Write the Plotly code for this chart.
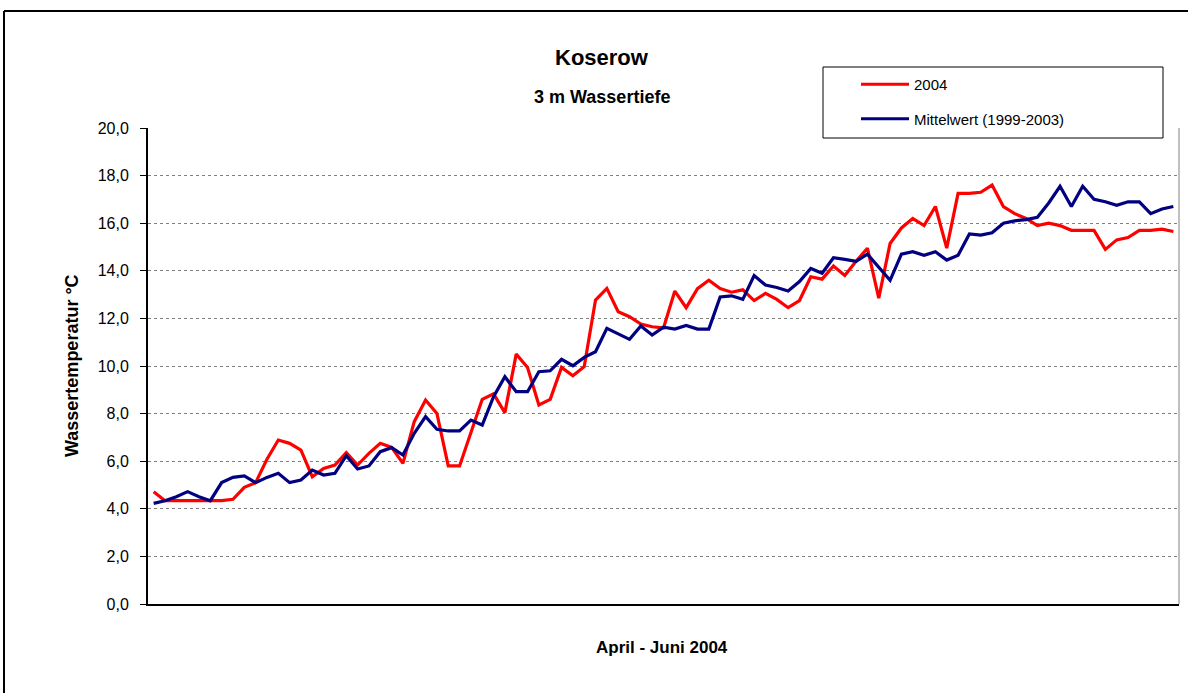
import pandas as pd
import plotly.graph_objects as go

# Days April - June 2004
days = pd.date_range("2004-04-01", "2004-06-30", freq="D")

temp_2004 = [
    4.72, 4.34, 4.34, 4.34, 4.34, 4.34, 4.34, 4.40, 4.90, 5.10,
    6.08, 6.89, 6.75, 6.47, 5.35, 5.70, 5.84, 6.36, 5.84, 6.33,
    6.75, 6.58, 5.91, 7.66, 8.57, 8.01, 5.80, 5.80, 7.24, 8.60,
    8.83, 8.04, 10.50, 9.94, 8.36, 8.60, 9.94, 9.59, 9.97, 12.77,
    13.26, 12.28, 12.07, 11.76, 11.65, 11.60, 13.15, 12.45, 13.25, 13.60,
    13.25, 13.10, 13.20, 12.75, 13.05, 12.80, 12.45, 12.75, 13.75, 13.65,
    14.20, 13.80, 14.40, 14.95, 12.85, 15.15, 15.80, 16.20, 15.90, 16.70,
    14.95, 17.25, 17.25, 17.30, 17.60, 16.70, 16.40, 16.20, 15.90, 16.00,
    15.90, 15.70, 15.70, 15.70, 14.90, 15.30, 15.40, 15.70, 15.70, 15.75,
    15.65,
]

temp_mean = [
    4.23, 4.34, 4.51, 4.72, 4.51, 4.34, 5.10, 5.32, 5.38, 5.10,
    5.32, 5.49, 5.10, 5.21, 5.63, 5.42, 5.49, 6.23, 5.67, 5.80,
    6.40, 6.57, 6.26, 7.17, 7.87, 7.34, 7.27, 7.27, 7.73, 7.52,
    8.71, 9.55, 8.92, 8.92, 9.76, 9.80, 10.28, 10.01, 10.36, 10.60,
    11.58, 11.34, 11.12, 11.68, 11.30, 11.63, 11.55, 11.70, 11.55, 11.55,
    12.90, 12.95, 12.80, 13.80, 13.40, 13.30, 13.15, 13.55, 14.10, 13.90,
    14.55, 14.48, 14.40, 14.70, 14.15, 13.60, 14.70, 14.80, 14.65, 14.80,
    14.45, 14.65, 15.55, 15.50, 15.60, 16.00, 16.10, 16.15, 16.25, 16.85,
    17.55, 16.70, 17.55, 17.00, 16.90, 16.75, 16.90, 16.90, 16.40, 16.60,
    16.70,
]

y_ticks = [0, 2, 4, 6, 8, 10, 12, 14, 16, 18, 20]
y_tick_labels = ["0,0", "2,0", "4,0", "6,0", "8,0", "10,0", "12,0", "14,0", "16,0", "18,0", "20,0"]

FONT = "Liberation Sans, Arial, sans-serif"

W, H = 1188, 693
L, R, T, B = 148, 9, 128, 89
PW, PH = W - L - R, H - T - B


def px(xp):
    return (xp - L) / PW


def py(yp):
    return (H - B - yp) / PH


fig = go.Figure()
fig.add_trace(go.Scatter(x=days, y=temp_2004, mode="lines", name="2004",
                         line=dict(color="#FF0000", width=3.2), legendgroup="a"))
fig.add_trace(go.Scatter(x=days, y=temp_mean, mode="lines", name="Mittelwert (1999-2003)",
                         line=dict(color="#000080", width=3.2), legendgroup="b"))

fig.update_layout(
    width=W, height=H,
    margin=dict(l=L, r=R, t=T, b=B, pad=0),
    paper_bgcolor="white", plot_bgcolor="white",
    font=dict(family=FONT, color="black", size=15),
    showlegend=True,
    legend=dict(x=px(856), y=py(68), xanchor="left", yanchor="top",
                bgcolor="rgba(0,0,0,0)", borderwidth=0,
                font=dict(family=FONT, size=15, color="black"),
                tracegroupgap=12, itemwidth=48),
    xaxis=dict(range=[pd.Timestamp("2004-03-31 12:00"), pd.Timestamp("2004-06-30 12:00")],
               showgrid=False, showticklabels=False, ticks="",
               showline=True, linecolor="black", linewidth=2, zeroline=False),
    yaxis=dict(range=[0, 20], tickvals=y_ticks, ticktext=y_tick_labels,
               showgrid=True, gridcolor="#808080", gridwidth=1, griddash="dot",
               ticks="outside", ticklen=6, tickcolor="black", tickwidth=1,
               ticklabelstandoff=8,
               showline=True, linecolor="black", linewidth=2, zeroline=False,
               tickfont=dict(family=FONT, size=16)),
    shapes=[
        # right border of plot area
        dict(type="line", xref="paper", yref="paper", x0=1, x1=1, y0=0, y1=1,
             line=dict(color="#808080", width=1)),
        # outer chart frame (top and left)
        dict(type="line", xref="paper", yref="paper", x0=px(4), x1=px(1200), y0=py(11), y1=py(11),
             line=dict(color="black", width=2)),
        dict(type="line", xref="paper", yref="paper", x0=px(4), x1=px(4), y0=py(11), y1=py(700),
             line=dict(color="black", width=2)),
        # legend box
        dict(type="rect", xref="paper", yref="paper", x0=px(823), x1=px(1163), y0=py(138), y1=py(67),
             line=dict(color="black", width=1), fillcolor="white", layer="above"),
    ],
    annotations=[
        dict(text="<b>Koserow</b>", x=px(602), y=py(57), xref="paper", yref="paper",
             showarrow=False, xanchor="center", yanchor="middle",
             font=dict(family=FONT, size=22, color="black")),
        dict(text="<b>3 m Wassertiefe</b>", x=px(602), y=py(97), xref="paper", yref="paper",
             showarrow=False, xanchor="center", yanchor="middle",
             font=dict(family=FONT, size=18, color="black")),
        dict(text="<b>Wassertemperatur °C</b>", x=px(72), y=0.5, xref="paper", yref="paper",
             showarrow=False, xanchor="center", yanchor="middle", textangle=-90,
             font=dict(family=FONT, size=18, color="black")),
        dict(text="<b>April - Juni 2004</b>", x=px(662), y=py(647), xref="paper", yref="paper",
             showarrow=False, xanchor="center", yanchor="middle",
             font=dict(family=FONT, size=17, color="black")),
    ],
)

fig.write_html(
    "out.html",
    config={"displayModeBar": False},
    post_script="document.body.style.margin='0';document.body.style.overflow='hidden';",
)
